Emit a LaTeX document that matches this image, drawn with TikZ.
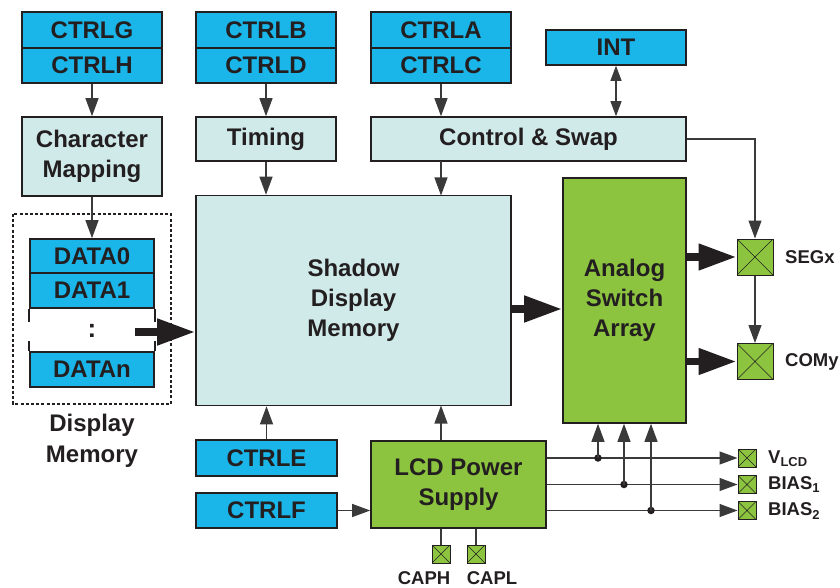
\documentclass[tikz,border=0pt]{standalone}
\usepackage{fontspec}
\setmainfont{Liberation Sans}
\usetikzlibrary{arrows.meta}
\definecolor{cblue}{HTML}{1AB5E9}
\definecolor{clight}{HTML}{D0E9E9}
\definecolor{cgreen}{HTML}{8CC43F}
\definecolor{cdark}{HTML}{231F20}
\definecolor{cline}{HTML}{3A3A3A}
\tikzset{
  box/.style={draw=cdark, line width=1.6pt, text=cdark, inner sep=0pt, align=center,
    font=\fontsize{24}{30}\selectfont\bfseries},
  bluebox/.style={box, fill=cblue},
  lightbox/.style={box, fill=clight},
  greenbox/.style={box, fill=cgreen},
  pin/.style={draw=cdark, line width=1pt, fill=cgreen, inner sep=0pt,
    path picture={\draw[cdark, line width=0.6pt] (path picture bounding box.north west) -- (path picture bounding box.south east)
      (path picture bounding box.north east) -- (path picture bounding box.south west);}},
  pinlabel/.style={text=cdark, anchor=west, inner sep=0pt, font=\fontsize{18.5}{20}\selectfont\bfseries},
  conn/.style={draw=cline, line width=1.1pt},
  thinarrow/.style={conn, -{Triangle[length=18pt,width=13pt]}},
  smallarrow/.style={conn, {Triangle[length=15pt,width=11pt]}-{Triangle[length=15pt,width=11pt]}},
  thickarrow/.style={draw=cdark, line width=7.5pt, -{Triangle[length=38pt,width=25pt]}},
  junction/.style={circle, fill=cdark, inner sep=0pt, minimum size=7.5pt},
}
\begin{document}
\begin{tikzpicture}[x=1pt, y=-1pt]
\useasboundingbox (0,0) rectangle (840,588);

% top register stacks
\node[bluebox, minimum width=140, minimum height=36] (g) at (92,30) {CTRLG};
\node[bluebox, minimum width=140, minimum height=35] (h) at (92,65.5) {CTRLH};
\node[bluebox, minimum width=140, minimum height=36] (b) at (266,30) {CTRLB};
\node[bluebox, minimum width=140, minimum height=35] (d) at (266,65.5) {CTRLD};
\node[bluebox, minimum width=140, minimum height=36] (a) at (441,30) {CTRLA};
\node[bluebox, minimum width=140, minimum height=35] (c) at (441,65.5) {CTRLC};
\node[bluebox, minimum width=140, minimum height=35] (int) at (616,47.5) {INT};

% second row
\node[lightbox, minimum width=140, minimum height=79] (cm) at (92,156.5) {Character\\Mapping};
\node[lightbox, minimum width=140, minimum height=44] (tim) at (266,139) {Timing};
\node[lightbox, minimum width=315, minimum height=44] (cs) at (528.5,139) {Control \& Swap};

% shadow memory and analog switch array
\node[lightbox, minimum width=315, minimum height=210] (sh) at (353.5,300.5) {Shadow\\Display\\Memory};
\node[greenbox, minimum width=123, minimum height=245] (asa) at (624.5,300.5) {Analog\\Switch\\Array};

% display memory
\draw[cdark, line width=1.2pt, dash pattern=on 3pt off 2.2pt] (13,214) rectangle (171,404);
\node[bluebox, minimum width=124, minimum height=34] (d0) at (92,256) {DATA0};
\node[bluebox, minimum width=124, minimum height=35] (d1) at (92,290.5) {DATA1};
\node[bluebox, minimum width=124, minimum height=35] (dn) at (92,369.5) {DATAn};
\draw[cdark, line width=1.6pt] (d1.south west) -- ++(0,13) (d1.south east) -- ++(0,13);
\draw[cdark, line width=1.6pt] (dn.north west) -- ++(0,-10) (dn.north east) -- ++(0,-10);
\node[text=cdark, font=\fontsize{26}{30}\selectfont\bfseries, inner sep=0pt] (dots) at (92,331) {:};
\node[text=cdark, align=center, inner sep=0pt, font=\fontsize{24}{31}\selectfont\bfseries] (dmlabel) at (92,441) {Display\\Memory};
\coordinate (dmout) at (135,332);

% bottom blocks
\node[bluebox, minimum width=141, minimum height=36] (e) at (266.5,458) {CTRLE};
\node[bluebox, minimum width=141, minimum height=35] (f) at (266.5,510.5) {CTRLF};
\node[greenbox, minimum width=175, minimum height=87] (lcd) at (458.5,484.5) {LCD Power\\Supply};

% pins
\node[pin, minimum size=36] (seg) at (755,257) {};
\node[pin, minimum size=36] (com) at (755,361.5) {};
\node[pinlabel] (segl) at (785,257) {SEGx};
\node[pinlabel] (coml) at (785,361.5) {COMy};

\node[pin, minimum size=18] (vlcd) at (747,458) {};
\node[pin, minimum size=18] (b1) at (747,484.5) {};
\node[pin, minimum size=18] (b2) at (747,510.5) {};
\node[pinlabel] (vlcdl) at (768,459) {V\textsubscript{LCD}};
\node[pinlabel] (b1l) at (768,485) {BIAS\textsubscript{1}};
\node[pinlabel] (b2l) at (768,511) {BIAS\textsubscript{2}};

\node[pin, minimum size=18] (caph) at (441,554) {};
\node[pin, minimum size=18] (capl) at (476,554) {};
\node[pinlabel, anchor=center] (caphl) at (424,578) {CAPH};
\node[pinlabel, anchor=center] (capll) at (492,578) {CAPL};

% thin arrows
\draw[thinarrow] (h.south) -- (cm.north);
\draw[thinarrow] (cm.south) -- (d0.north);
\draw[thinarrow] (d.south) -- (tim.north);
\draw[thinarrow] (tim.south) -- (tim.south |- sh.north);
\draw[thinarrow] (c.south) -- (c.south |- cs.north);
\draw[thinarrow] (441,161) -- (441,195.5);
\draw[smallarrow] (int.south) -- (int.south |- cs.north);
\draw[thinarrow] (cs.east) -| (seg.north);
\draw[thinarrow] (seg.south) -- (com.north);
\draw[thinarrow] (e.north) -- (e.north |- sh.south);
\draw[thinarrow] (lcd.north -| 441,0) -- (441,405.5);
\draw[thinarrow] (f.east) -- (f.east -| lcd.west);

% thick arrows
\draw[thickarrow] (dmout) -- (dmout -| sh.west);
\draw[thickarrow] (sh.east |- 0,309) -- (asa.west |- 0,309);
\draw[thickarrow] (asa.east |- seg) -- (seg.west);
\draw[thickarrow] (asa.east |- com) -- (com.west);

% power rails
\draw[thinarrow] (lcd.east |- vlcd) -- (vlcd.west);
\draw[thinarrow] (lcd.east |- b1) -- (b1.west);
\draw[thinarrow] (lcd.east |- b2) -- (b2.west);
\node[junction] (j1) at (598,458) {};
\node[junction] (j2) at (624,484.5) {};
\node[junction] (j3) at (651,510.5) {};
\draw[thinarrow] (j1.center) -- (j1.center |- asa.south);
\draw[thinarrow] (j2.center) -- (j2.center |- asa.south);
\draw[thinarrow] (j3.center) -- (j3.center |- asa.south);

% capacitor pins
\draw[conn] (caph.north |- lcd.south) -- (caph.north);
\draw[conn] (capl.north |- lcd.south) -- (capl.north);
\end{tikzpicture}
\end{document}
